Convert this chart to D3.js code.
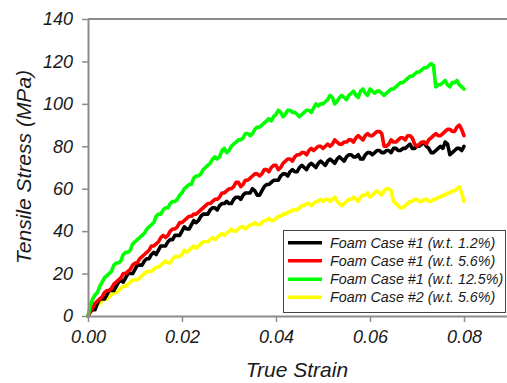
<!DOCTYPE html>
<html>
<head>
<meta charset="utf-8">
<script src="https://cdn.jsdelivr.net/npm/d3@7"></script>
<style>
html,body{margin:0;padding:0;background:#fff;}
svg{display:block;}
text{font-family:"Liberation Sans",Arial,sans-serif;font-style:italic;fill:#1a1a1a;}
</style>
</head>
<body>
<svg id="chart" width="507" height="383"></svg>
<script>
const strain = [
0.0000,0.0005,0.0010,0.0015,0.0020,0.0025,0.0030,0.0035,0.0040,0.0045,
0.0050,0.0055,0.0060,0.0065,0.0070,0.0075,0.0080,0.0085,0.0090,0.0095,
0.0100,0.0105,0.0110,0.0115,0.0120,0.0125,0.0130,0.0135,0.0140,0.0145,
0.0150,0.0155,0.0160,0.0165,0.0170,0.0175,0.0180,0.0185,0.0190,0.0195,
0.0200,0.0205,0.0210,0.0215,0.0220,0.0225,0.0230,0.0235,0.0240,0.0245,
0.0250,0.0255,0.0260,0.0265,0.0270,0.0275,0.0280,0.0285,0.0290,0.0295,
0.0300,0.0305,0.0310,0.0315,0.0320,0.0325,0.0330,0.0335,0.0340,0.0345,
0.0350,0.0355,0.0360,0.0365,0.0370,0.0375,0.0380,0.0385,0.0390,0.0395,
0.0400,0.0405,0.0410,0.0415,0.0420,0.0425,0.0430,0.0435,0.0440,0.0445,
0.0450,0.0455,0.0460,0.0465,0.0470,0.0475,0.0480,0.0485,0.0490,0.0495,
0.0500,0.0505,0.0510,0.0515,0.0520,0.0525,0.0530,0.0535,0.0540,0.0545,
0.0550,0.0555,0.0560,0.0565,0.0570,0.0575,0.0580,0.0585,0.0590,0.0595,
0.0600,0.0605,0.0610,0.0615,0.0620,0.0625,0.0630,0.0635,0.0640,0.0645,
0.0650,0.0655,0.0660,0.0665,0.0670,0.0675,0.0680,0.0685,0.0690,0.0695,
0.0700,0.0705,0.0710,0.0715,0.0720,0.0725,0.0730,0.0735,0.0740,0.0745,
0.0750,0.0755,0.0760,0.0765,0.0770,0.0775,0.0780,0.0785,0.0790,0.0795,
0.0800];

const case1_12 = [
0,2,3,3,6,8,8,8,10,12,
12,12,14,16,17,16,18,20,20,20,
22,24,24,24,26,27,27,29,30,29,
31,33,33,33,35,36,36,38,38,38,
40,42,41,41,43,45,44,45,47,48,
48,48,50,51,51,50,52,53,53,54,
53,53,55,56,56,55,57,58,58,58,
60,59,57,57,59,61,62,62,63,64,
64,64,66,67,67,66,68,69,68,68,
70,71,70,69,71,72,71,70,72,73,
72,71,73,74,73,72,74,75,74,73,
75,76,76,75,75,76,74,74,76,77,
77,76,77,78,78,77,77,78,78,77,
79,79,78,78,79,79,80,81,79,79,
80,80,81,82,80,79,77,77,78,79,
80,79,82,81,76,77,78,79,79,78,
80];

const case1_56 = [
0,2,4,6,7,8,9,11,12,12,
13,15,16,17,18,20,20,21,22,24,
25,25,27,28,29,30,31,33,33,34,
35,37,38,37,38,40,41,41,42,44,
44,45,46,47,47,48,48,49,50,51,
52,53,53,54,55,55,56,58,58,59,
60,60,61,63,63,61,62,64,64,65,
66,67,67,66,67,69,69,68,70,71,
71,69,70,72,73,74,74,73,75,76,
76,77,77,76,78,79,78,79,80,80,
79,80,81,80,81,83,82,81,81,82,
82,83,83,82,84,85,84,83,85,86,
85,85,86,87,87,86,80,80,81,83,
82,82,83,84,84,83,85,85,84,81,
80,81,82,82,81,83,84,85,86,85,
85,86,87,88,88,87,87,89,90,88,
85];

const case1_125 = [
0,5,8,10,11,14,16,18,19,20,
21,24,25,25,26,29,30,30,31,34,
35,36,37,38,39,41,42,43,44,47,
48,48,50,51,51,53,54,54,55,57,
58,60,61,62,62,65,66,66,67,69,
70,71,72,74,75,74,75,78,79,77,
78,80,81,82,83,83,84,86,86,85,
86,88,89,89,90,91,92,93,92,94,
95,97,96,94,95,97,97,96,96,95,
94,95,96,97,97,96,98,100,99,100,
100,101,102,104,103,100,101,103,104,103,
102,104,105,106,104,103,106,107,105,104,
107,106,105,106,106,105,104,105,106,107,
107,108,109,110,110,111,112,113,113,114,
115,115,116,117,117,118,119,118,108,109,
109,110,111,109,108,110,110,111,109,108,
107];

const case2_56 = [
0,2,3,4,5,6,7,8,8,9,
10,11,11,12,13,14,14,15,16,17,
17,17,18,19,20,21,21,21,22,23,
23,24,25,26,25,25,27,28,28,28,
29,31,30,31,32,33,32,33,34,35,
35,35,36,37,36,37,38,39,38,39,
40,41,40,40,41,42,42,41,42,43,
43,44,43,43,44,45,45,46,45,45,
46,47,47,48,48,49,49,50,50,50,
51,52,52,53,53,52,53,54,54,55,
54,55,55,54,55,56,54,53,52,53,
54,55,55,56,55,54,56,57,57,58,
56,57,58,59,58,57,59,60,60,59,
54,53,52,51,51,52,53,54,54,55,
55,54,54,55,55,54,54,55,55,56,
56,57,57,58,58,59,59,60,61,58,
54];

const seriesNames = ["Foam Case #1 (w.t. 1.2%)","Foam Case #1 (w.t. 5.6%)","Foam Case #1 (w.t. 12.5%)","Foam Case #2 (w.t. 5.6%)"];
const seriesColors = ["#000000","#ff0000","#00ff00","#ffff00"];
const seriesValues = [case1_12, case1_56, case1_125, case2_56];
const xTicks = [0, 0.02, 0.04, 0.06, 0.08];
const yTicks = [0, 20, 40, 60, 80, 100, 120, 140];

const svg = d3.select("#chart");
const x = d3.scaleLinear().domain([0, 0.09]).range([88, 511]);
const y = d3.scaleLinear().domain([0, 140]).range([316, 19]);

// top frame line
svg.append("line").attr("x1", 88).attr("x2", 507).attr("y1", y(140)).attr("y2", y(140))
  .attr("stroke", "#8c8c8c").attr("stroke-width", 2);

const line = d3.line().x((d, i) => x(strain[i])).y(d => y(d));
const order = [3, 0, 1, 2];
order.forEach(k => {
  svg.append("path").datum(seriesValues[k]).attr("d", line)
    .attr("fill", "none").attr("stroke", seriesColors[k]).attr("stroke-width", 3.6)
    .attr("stroke-linejoin", "round").attr("stroke-linecap", "round");
});

// axes
const xAxis = svg.append("g").attr("transform", `translate(0,${y(0)})`)
  .call(d3.axisBottom(x).tickValues(xTicks).tickFormat(d3.format(".2f")).tickSize(6).tickPadding(8).tickSizeOuter(0));
const yAxis = svg.append("g").attr("transform", `translate(${x(0)},0)`)
  .call(d3.axisLeft(y).tickValues(yTicks).tickSize(6).tickPadding(9).tickSizeOuter(0));
[xAxis, yAxis].forEach(g => {
  g.select(".domain").attr("stroke", "#8c8c8c").attr("stroke-width", 2);
  g.selectAll(".tick line").attr("stroke", "#8c8c8c").attr("stroke-width", 1.5);
  g.selectAll(".tick text").attr("font-size", 18).attr("font-family", '"Liberation Sans",Arial,sans-serif')
    .attr("font-style", "italic").attr("fill", "#1a1a1a");
});

// axis titles
svg.append("text").attr("x", 297).attr("y", 377).attr("text-anchor", "middle")
  .attr("font-size", 21).text("True Strain");
svg.append("text").attr("transform", `translate(31,${167}) rotate(-90)`).attr("text-anchor", "middle")
  .attr("font-size", 21).text("Tensile Stress (MPa)");

// legend
const lg = svg.append("g");
lg.append("rect").attr("x", 283.5).attr("y", 230.5).attr("width", 222).attr("height", 82)
  .attr("fill", "#fff").attr("stroke", "#444").attr("stroke-width", 1);
const rowsY = [242.7, 260.7, 279.3, 297.3];
seriesNames.forEach((name, i) => {
  lg.append("line").attr("x1", 288).attr("x2", 322).attr("y1", rowsY[i]).attr("y2", rowsY[i])
    .attr("stroke", seriesColors[i]).attr("stroke-width", 3.5);
  lg.append("text").attr("x", 330).attr("y", rowsY[i]).attr("dy", "0.35em")
    .attr("font-size", 14.3).text(name);
});
</script>
</body>
</html>
